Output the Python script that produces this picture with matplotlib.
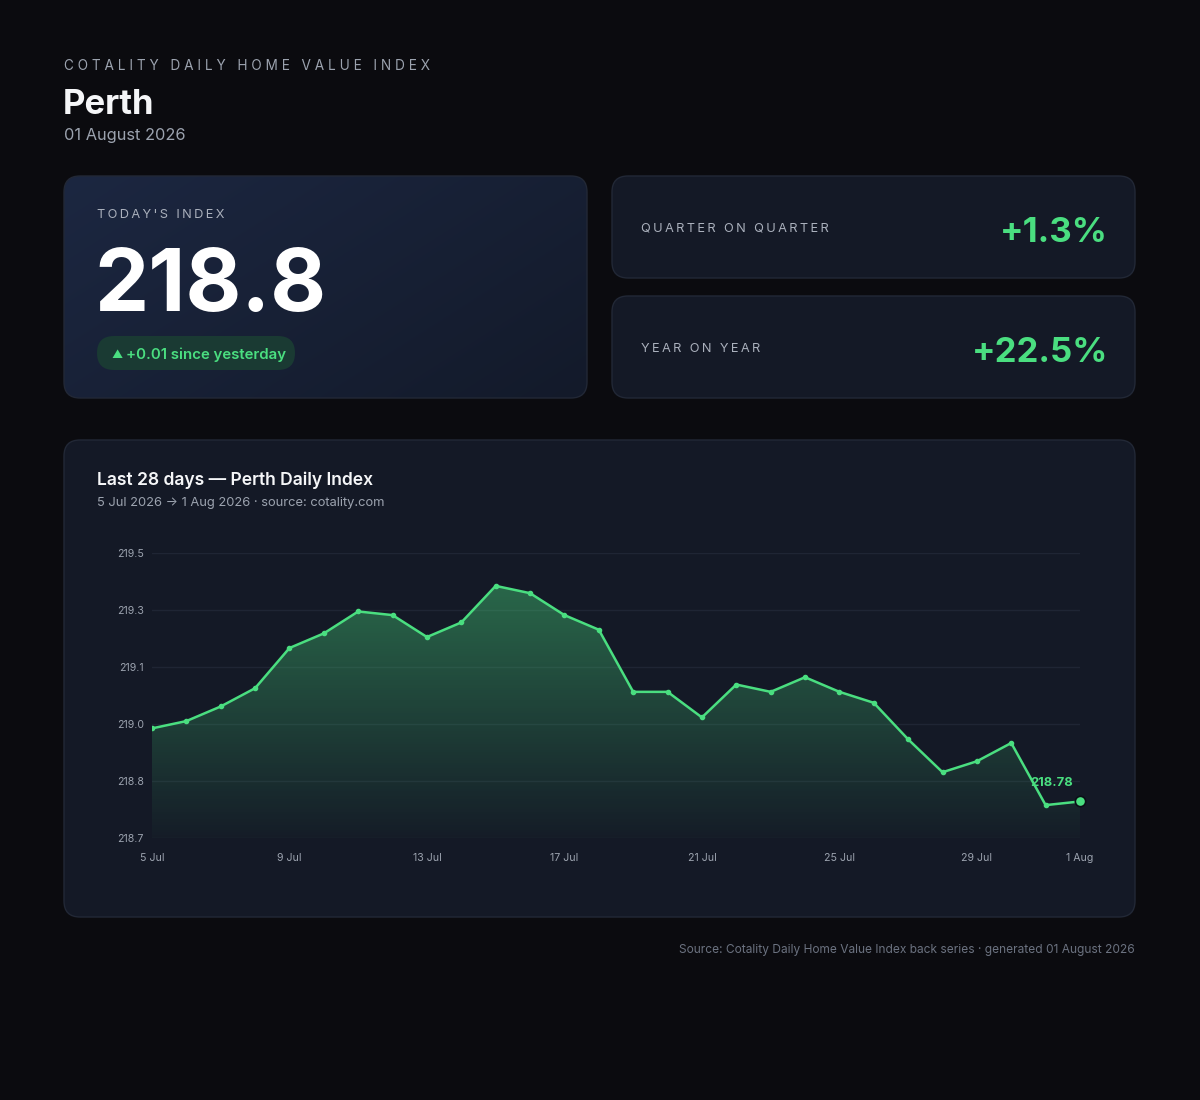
import numpy as np
import pandas as pd
import matplotlib
matplotlib.use("Agg")
import matplotlib.pyplot as plt
from matplotlib.patches import FancyBboxPatch, Polygon
from matplotlib.colors import LinearSegmentedColormap, to_rgb

# ── Data ─────────────────────────────────────────────────────
city = "Perth"
report_date = "01 August 2026"
dates = pd.date_range(start="2026-07-05", periods=28, freq="D")
index_values = [218.98, 219.00, 219.04, 219.09, 219.20, 219.24, 219.30,
                219.29, 219.23, 219.27, 219.37, 219.35, 219.29, 219.25,
                219.08, 219.08, 219.01, 219.10, 219.08, 219.12, 219.08,
                219.05, 218.95, 218.86, 218.89, 218.94, 218.77, 218.78]
today_index = "218.8"
daily_change = "+0.01"
qoq_change = "+1.3%"
yoy_change = "+22.5%"

# ── Style ────────────────────────────────────────────────────
BG = "#0b0b0f"
CARD = "#141926"
BORDER = "#222836"
GREEN = "#4ade80"
MUTED = "#9ca3af"
LABEL = "#aab0bc"
WHITE = "#f5f6f8"
GRID = "#1f2534"
FONT = ["Inter", "DejaVu Sans"]
plt.rcParams["font.family"] = FONT


def spaced(s, gap=" ", word_gap="   "):
    # crude letter spacing for the small caps labels
    return word_gap.join(gap.join(w) for w in s.split(" "))


THIN = "\u2009"

fig = plt.figure(figsize=(12, 11), dpi=100, facecolor=BG)

# full-figure axes in pixel units for the cards and text
bg = fig.add_axes([0, 0, 1, 1])
bg.set_xlim(0, 1200)
bg.set_ylim(1100, 0)
bg.axis("off")
bg.set_facecolor(BG)


def card(x0, y0, x1, y1, face=CARD, radius=16):
    p = FancyBboxPatch((x0, y0), x1 - x0, y1 - y0,
                       boxstyle=f"round,pad=0,rounding_size={radius}",
                       facecolor=face, edgecolor=BORDER, linewidth=1, zorder=1)
    bg.add_patch(p)
    return p


# header
bg.text(64, 70, spaced("COTALITY DAILY HOME VALUE INDEX"), color=MUTED,
        fontsize=9.8, va="baseline", ha="left")
bg.text(63, 114, city, color=WHITE, fontsize=25, fontweight="bold",
        va="baseline", ha="left")
bg.text(64, 140, report_date, color=MUTED, fontsize=11.8, va="baseline", ha="left")

# today's index card with gradient
p = card(64, 176, 587, 398, face="none")
grad = np.linspace(0, 1, 256)
gx, gy = np.meshgrid(grad, grad)
g = (gx * 0.6 + gy * 0.4)
c0, c1 = np.array(to_rgb("#1c2741")), np.array(to_rgb("#131a2a"))
img = c0[None, None, :] * (1 - g[..., None]) + c1[None, None, :] * g[..., None]
im = bg.imshow(img, extent=(64, 587, 398, 176), zorder=0.5, aspect="auto")
im.set_clip_path(p)

bg.text(97, 218, spaced("TODAY'S INDEX", THIN, THIN + " " + THIN), color=LABEL,
        fontsize=9.2, va="baseline", ha="left")
bg.text(94, 311, today_index, color="white", fontsize=62, fontweight="bold",
        va="baseline", ha="left")
pill = FancyBboxPatch((97, 336), 198, 34, boxstyle="round,pad=0,rounding_size=17",
                      facecolor="#1a3a33", edgecolor="none", zorder=2)
bg.add_patch(pill)
bg.text(111, 358, "▲", color=GREEN, fontsize=8, va="baseline", ha="left", zorder=3)
bg.text(126, 359, f"{daily_change} since yesterday", color=GREEN, fontsize=10.8,
        fontweight="semibold", va="baseline", ha="left", zorder=3)

# change cards
for (y0, y1, label, val) in [(176, 278, "QUARTER ON QUARTER", qoq_change),
                             (296, 398, "YEAR ON YEAR", yoy_change)]:
    card(612, y0, 1135, y1)
    mid = (y0 + y1) / 2
    bg.text(641, mid + 5, spaced(label, THIN, THIN + " " + THIN), color=LABEL,
            fontsize=9.2, va="baseline", ha="left", zorder=3)
    bg.text(1108, mid + 15, val, color=GREEN, fontsize=25, fontweight="bold",
            va="baseline", ha="right", zorder=3)

# chart card
card(64, 440, 1135, 917)
bg.text(97, 485, f"Last 28 days — {city} Daily Index", color=WHITE, fontsize=12.6,
        fontweight="semibold", va="baseline", ha="left", zorder=3)
bg.text(97, 506, f"{dates[0]:%-d %b %Y} → {dates[-1]:%-d %b %Y} · source: cotality.com",
        color=MUTED, fontsize=9.3, va="baseline", ha="left", zorder=3)

bg.text(1135, 953, f"Source: Cotality Daily Home Value Index back series · generated {report_date}",
        color="#6b7280", fontsize=8.6, va="baseline", ha="right")

# ── Line chart ───────────────────────────────────────────────
ax = fig.add_axes([152 / 1200, 1 - 838 / 1100, 928 / 1200, 285 / 1100])
ax.set_facecolor("none")
x = np.arange(len(index_values))
vals = np.array(index_values)
pad = (vals.max() - vals.min()) * 0.15
lo, hi = vals.min() - pad, vals.max() + pad
ax.set_xlim(0, len(vals) - 1)
ax.set_ylim(lo, hi)

# gradient area under the line
cmap = LinearSegmentedColormap.from_list(
    "fade", [(0.29, 0.87, 0.50, 0.02), (0.29, 0.87, 0.50, 0.45)])
area = ax.imshow(np.linspace(0, 1, 256)[:, None], extent=(0, len(vals) - 1, lo, hi),
                 origin="lower", cmap=cmap, aspect="auto", zorder=1)
poly = Polygon(np.vstack([np.column_stack([x, vals]),
                          [[x[-1], lo], [0, lo]]]), closed=True,
               facecolor="none", edgecolor="none")
ax.add_patch(poly)
area.set_clip_path(poly)

ax.plot(x, vals, color=GREEN, linewidth=1.8, zorder=3)
ax.scatter(x[:-1], vals[:-1], s=9, color=GREEN, zorder=4)
ax.scatter(x[-1:], vals[-1:], s=55, color=GREEN, edgecolor="#0b0f17",
           linewidth=1.2, zorder=5, clip_on=False)
ax.annotate(f"{vals[-1]:.2f}", (x[-1], vals[-1]), xytext=(-28, 18),
            textcoords="offset pixels", color=GREEN, fontsize=9.3,
            fontweight="bold", ha="center", va="center", zorder=6)

yt = np.linspace(lo, hi, 6)
ax.set_yticks(yt)
ax.set_yticklabels([f"{v:.1f}" for v in yt])
xt = list(range(0, len(vals) - 1, 4)) + [len(vals) - 1]
ax.set_xticks(xt)
ax.set_xticklabels([f"{dates[i]:%-d %b}" for i in xt])
ax.tick_params(length=0, colors=MUTED, labelsize=7.6)
ax.tick_params(axis="y", pad=6)
ax.tick_params(axis="x", pad=11)
ax.grid(axis="y", color=GRID, linewidth=1)
ax.set_axisbelow(True)
for s in ax.spines.values():
    s.set_visible(False)

fig.savefig("out.png", dpi=100, facecolor=BG)
